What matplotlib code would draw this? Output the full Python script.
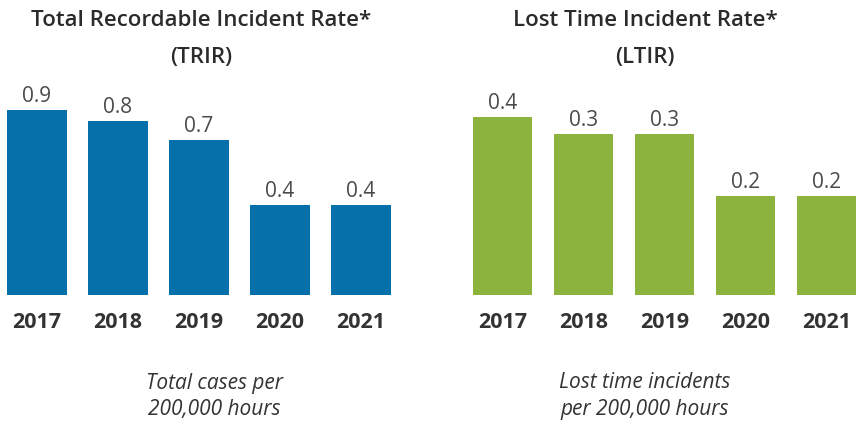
import matplotlib
matplotlib.use("Agg")
import matplotlib.pyplot as plt

years = ["2017", "2018", "2019", "2020", "2021"]
trir_labels = ["0.9", "0.8", "0.7", "0.4", "0.4"]
trir_heights = [0.925, 0.87, 0.775, 0.45, 0.45]
ltir_labels = ["0.4", "0.3", "0.3", "0.2", "0.2"]
ltir_heights = [0.396, 0.358, 0.358, 0.22, 0.22]

plt.rcParams['font.family'] = ['Open Sans', 'DejaVu Sans']

W, H = 857, 422
fig = plt.figure(figsize=(W / 100, H / 100), dpi=100)


def px_axes(left, bottom_from_top, width, height):
    # axes box given in pixels, y measured from the top of the image
    return fig.add_axes([left / W, (H - bottom_from_top) / H, width / W, height / H])


def draw_panel(ax, heights, labels, color, xlim, ytop):
    x = list(range(len(years)))
    ax.bar(x, heights, width=0.74, color=color)
    for xi, h, lab in zip(x, heights, labels):
        ax.annotate(lab, (xi, h), xytext=(0, 5.8), textcoords="offset points",
                    ha="center", va="baseline", fontsize=15, fontweight="normal",
                    color="#4a4a4a")
    ax.set_xlim(*xlim)
    ax.set_ylim(0, ytop)
    ax.set_xticks(x)
    ax.set_xticklabels(years, fontsize=15.5, fontweight="bold", color="#333333")
    ax.tick_params(axis="x", length=0, pad=12.5)
    ax.set_yticks([])
    for s in ax.spines.values():
        s.set_visible(False)


ax1 = px_axes(0, 295, 405, 220)
draw_panel(ax1, trir_heights, trir_labels, "#0670AA", (-37 / 81, -37 / 81 + 405 / 81), 1.1)

ax2 = px_axes(462, 295, 395, 220)
draw_panel(ax2, ltir_heights, ltir_labels, "#8DB33F", (-0.5, -0.5 + 395 / 81), 220 / 450)

title_kw = dict(ha="center", va="center", fontsize=16, fontweight="semibold", color="#2b2b2b")
fig.text(201 / W, 1 - 21 / H, "Total Recordable Incident Rate*", **title_kw)
fig.text(201 / W, 1 - 58 / H, "(TRIR)", **title_kw)
fig.text(645 / W, 1 - 21 / H, "Lost Time Incident Rate*", **title_kw)
fig.text(645 / W, 1 - 58 / H, "(LTIR)", **title_kw)

cap_kw = dict(ha="center", va="center", fontsize=15, style="italic", color="#333333")
fig.text(214 / W, 1 - 383 / H, "Total cases per", **cap_kw)
fig.text(214 / W, 1 - 410 / H, "200,000 hours", **cap_kw)
fig.text(645 / W, 1 - 383 / H, "Lost time incidents", **cap_kw)
fig.text(645 / W, 1 - 410 / H, "per 200,000 hours", **cap_kw)

fig.savefig("out.png", dpi=100)
